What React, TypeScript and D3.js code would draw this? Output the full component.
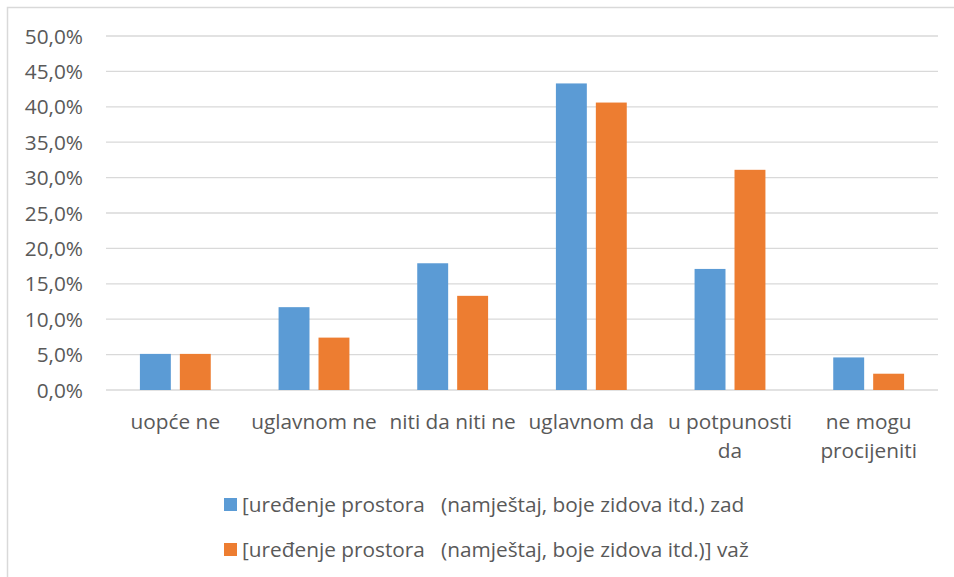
import React, { useEffect, useRef } from "react";
import * as d3 from "d3";

const categories = ["uopće ne", "uglavnom ne", "niti da niti ne", "uglavnom da", "u potpunosti da", "ne mogu procijeniti"];
const seriesNames = [
  "[uređenje prostora   (namještaj, boje zidova itd.) zad",
  "[uređenje prostora   (namještaj, boje zidova itd.)] važ",
];
const seriesZad = [5.1, 11.7, 17.9, 43.3, 17.1, 4.6];
const seriesVaz = [5.1, 7.4, 13.3, 40.6, 31.1, 2.3];
const yTicks = [0, 5, 10, 15, 20, 25, 30, 35, 40, 45, 50];
const colors = ["#5b9bd5", "#ed7d31"];

const W = 954;
const H = 577;
const FONT = "'Open Sans', sans-serif";
const FS = 20.8;
const TXT = "#595959";

export default function App() {
  const ref = useRef<SVGSVGElement>(null);

  useEffect(() => {
    const svg = d3.select(ref.current);
    svg.selectAll("*").remove();

    // chart border
    svg.append("rect").attr("x", 7.5).attr("y", 7.5).attr("width", W + 10).attr("height", H + 10)
      .attr("fill", "#fff").attr("stroke", "#d9d9d9").attr("stroke-width", 1.5);

    const left = 106, right = 938, top = 36, bottom = 390;
    const x = d3.scaleBand<string>().domain(categories).range([left, right]).padding(0);
    const y = d3.scaleLinear().domain([0, 50]).range([bottom, top]);

    const g = svg.append("g");
    g.selectAll("line.grid").data(yTicks).join("line")
      .attr("x1", left).attr("x2", right)
      .attr("y1", (d) => y(d)).attr("y2", (d) => y(d))
      .attr("stroke", "#d9d9d9").attr("stroke-width", 1.3);

    g.selectAll("text.ylab").data(yTicks).join("text")
      .attr("x", 83).attr("y", (d) => y(d) + 7.5)
      .attr("text-anchor", "end")
      .attr("font-family", FONT).attr("font-size", FS).attr("fill", TXT)
      .text((d) => d.toFixed(1).replace(".", ",") + "%");

    const step = x.bandwidth();
    const bw = step * 0.223;
    const gap = step * 0.065;
    const series = [seriesZad, seriesVaz];
    series.forEach((vals, si) => {
      g.selectAll(`rect.s${si}`).data(vals).join("rect")
        .attr("x", (_, i) => {
          const c = (x(categories[i]) as number) + step / 2;
          return si === 0 ? c - gap / 2 - bw : c + gap / 2;
        })
        .attr("y", (d) => y(d))
        .attr("width", bw)
        .attr("height", (d) => bottom - y(d))
        .attr("fill", colors[si]);
    });

    const maxW = step - 4;
    categories.forEach((cat) => {
      const cx = (x(cat) as number) + step / 2;
      const t = g.append("text").attr("font-family", FONT).attr("font-size", FS).attr("fill", TXT)
        .attr("text-anchor", "middle");
      const words = cat.split(" ");
      const lines: string[] = [];
      let cur: string[] = [];
      const probe = t.append("tspan");
      words.forEach((w) => {
        const test = [...cur, w].join(" ");
        probe.text(test);
        const len = (probe.node() as SVGTSpanElement).getComputedTextLength();
        if (len > maxW && cur.length) {
          lines.push(cur.join(" "));
          cur = [w];
        } else cur.push(w);
      });
      if (cur.length) lines.push(cur.join(" "));
      probe.remove();
      lines.forEach((ln, li) => {
        t.append("tspan").attr("x", cx).attr("y", 428.5 + li * 29).text(ln);
      });
    });

    const legY = [504.5, 549.5];
    seriesNames.forEach((name, si) => {
      svg.append("rect").attr("x", 224).attr("y", legY[si] - 6.5).attr("width", 13).attr("height", 13)
        .attr("fill", colors[si]);
      svg.append("text").attr("x", 242).attr("y", legY[si] + 7.5)
        .attr("font-family", FONT).attr("font-size", FS).attr("fill", TXT)
        .style("white-space", "pre")
        .text(name);
    });
  }, []);

  return (
    <svg ref={ref} width={W} height={H}
      style={{ position: "absolute", left: 0, top: 0, display: "block", background: "#fff" }} />
  );
}
